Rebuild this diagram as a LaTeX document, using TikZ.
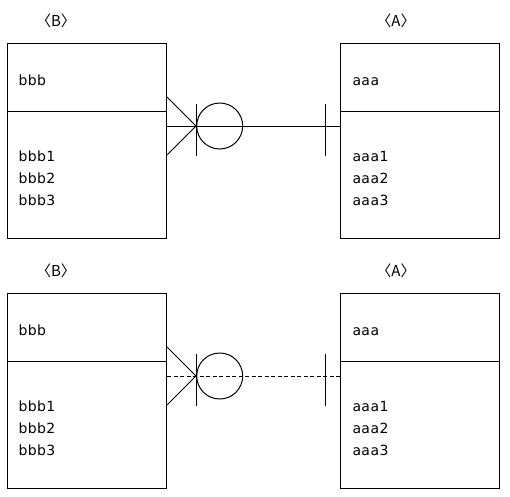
\documentclass[tikz,border=0pt]{standalone}
\usepackage{fontspec}
\setmainfont[LetterSpace=3]{DejaVu Sans}
\newfontfamily\krfont{Noto Sans CJK KR}
\tikzset{
  entity/.style={draw,anchor=north west,minimum width=159pt,minimum height=195pt,inner sep=0pt},
  attr/.style={anchor=base west,inner sep=0pt,font=\fontsize{14}{16}\selectfont},
  title/.style={anchor=base,inner sep=0pt,font=\krfont\fontsize{15}{16}\selectfont},
  opt/.style={draw,circle,minimum size=46pt,inner sep=0pt},
  dashline/.style={dash pattern=on 4pt off 2.5pt}
}
\begin{document}
\begin{tikzpicture}[x=1pt,y=-1pt,line width=1pt]
\useasboundingbox (0,0) rectangle (510,496);
% upper pair
\node[entity](B1) at (7,43){};
\node[entity](A1) at (340,43){};
\draw(B1.west |- 0,111)--(B1.east |- 0,111);
\draw(A1.west |- 0,111)--(A1.east |- 0,111);
\node[title](tB1) at (56,26){〈B〉};
\node[title](tA1) at (396,26){〈A〉};
\node[attr](b10) at (18,85){bbb};
\node[attr](b11) at (18,161){bbb1};
\node[attr](b12) at (18,183){bbb2};
\node[attr](b13) at (18,205){bbb3};
\node[attr](a10) at (352,85){aaa};
\node[attr](a11) at (352,161){aaa1};
\node[attr](a12) at (352,183){aaa2};
\node[attr](a13) at (352,205){aaa3};
%
\coordinate(f1) at (196,126);
\coordinate(g1) at (325,126);
\draw(B1.east |- f1)--(A1.west |- f1);
\draw[line width=0.8pt](B1.east |- 0,97)--(f1)--(B1.east |- 0,155);
\draw(f1)++(0,-22)--++(0,52);
\node[opt](o1) at (219.7,126){};
\draw(g1)++(0,-22)--++(0,52);
% lower pair
\node[entity](B2) at (7,293){};
\node[entity](A2) at (340,293){};
\draw(B2.west |- 0,361)--(B2.east |- 0,361);
\draw(A2.west |- 0,361)--(A2.east |- 0,361);
\node[title](tB2) at (56,276){〈B〉};
\node[title](tA2) at (396,276){〈A〉};
\node[attr](b20) at (18,335){bbb};
\node[attr](b21) at (18,411){bbb1};
\node[attr](b22) at (18,433){bbb2};
\node[attr](b23) at (18,455){bbb3};
\node[attr](a20) at (352,335){aaa};
\node[attr](a21) at (352,411){aaa1};
\node[attr](a22) at (352,433){aaa2};
\node[attr](a23) at (352,455){aaa3};
%
\coordinate(f2) at (196,376);
\coordinate(g2) at (325,376);
\draw[dashline](B2.east |- f2)--(A2.west |- f2);
\draw[line width=0.8pt](B2.east |- 0,347)--(f2)--(B2.east |- 0,405);
\draw(f2)++(0,-22)--++(0,52);
\node[opt](o2) at (219.7,376){};
\draw(g2)++(0,-22)--++(0,52);
\end{tikzpicture}
\end{document}
